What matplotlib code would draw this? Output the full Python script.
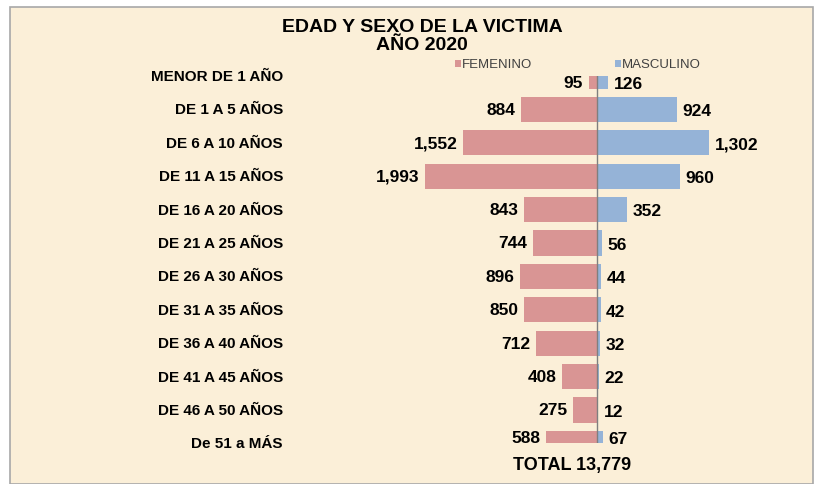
import matplotlib.pyplot as plt
import matplotlib.patches as p
import matplotlib.transforms as mtransforms

plt.rcParams['font.family'] = ['Liberation Sans', 'DejaVu Sans']

grupos = ["MENOR DE 1 AÑO", "DE 1 A 5 AÑOS", "DE 6 A 10 AÑOS", "DE 11 A 15 AÑOS",
          "DE 16 A 20 AÑOS", "DE 21 A 25 AÑOS", "DE 26 A 30 AÑOS", "DE 31 A 35 AÑOS",
          "DE 36 A 40 AÑOS", "DE 41 A 45 AÑOS", "DE 46 A 50 AÑOS", "De 51 a MÁS"]
femenino = [95, 884, 1552, 1993, 843, 744, 896, 850, 712, 408, 275, 588]
masculino = [126, 924, 1302, 960, 352, 56, 44, 42, 32, 22, 12, 67]
total = "TOTAL 13,779"

W, H = 820, 485
c_fem = "#D99594"
c_mas = "#95B3D7"

fig = plt.figure(figsize=(W / 100, H / 100), dpi=100)
fig.patch.set_facecolor("white")

# beige panel (behind the axes)
fig.patches.append(p.Rectangle((10 / W, 0), 803 / W, 1 - 8 / H, transform=fig.transFigure,
                               facecolor="#FBEFD8", edgecolor="#A8A8A8", lw=1.2, zorder=-5))

# bar axes: x pixels 300..812, y pixels 77..444
ax = fig.add_axes([300 / W, 1 - 444.4 / H, 512 / W, (444.4 - 77) / H])
ax.patch.set_alpha(0)
n = len(grupos)
ys = list(range(n))
h = 0.75
ax.barh(ys, [-v for v in femenino], height=h, color=c_fem)
ax.barh(ys, masculino, height=h, color=c_mas)
ax.set_xlim(-3441, 2491)
ax.set_ylim(n - 1, 0)
ax.axvline(0, color="#7F7F7F", lw=1.0)
ax.axis("off")

for i in ys:
    # visible center of each bar (first and last are clipped by the axis)
    lo, hi = max(i - h / 2, 0), min(i + h / 2, n - 1)
    yc = (lo + hi) / 2
    ax.annotate(f"{femenino[i]:,}", xy=(-femenino[i], yc), xytext=(-4, 0),
                textcoords="offset points", ha="right", va="center",
                fontsize=12.5, fontweight="bold", annotation_clip=False)
    ax.annotate(f"{masculino[i]:,}", xy=(masculino[i], yc), xytext=(4, -1),
                textcoords="offset points", ha="left", va="center",
                fontsize=12.5, fontweight="bold", annotation_clip=False)

# category labels
trans = mtransforms.blended_transform_factory(fig.transFigure, ax.transData)
for i, g in enumerate(grupos):
    ax.text(283 / W, i, g, transform=trans, ha="right", va="center",
            fontsize=11, fontweight="bold")

# title
fig.text(422 / W, 1 - 28 / H, "EDAD Y SEXO DE LA VICTIMA", ha="center", va="center",
         fontsize=14, fontweight="bold")
fig.text(422 / W, 1 - 46 / H, "AÑO 2020", ha="center", va="center",
         fontsize=14, fontweight="bold")

# legend
for x0, lab, col in [(455, "FEMENINO", c_fem), (615, "MASCULINO", c_mas)]:
    fig.patches.append(p.Rectangle((x0 / W, 1 - 68 / H), 6 / W, 7 / H,
                                   transform=fig.transFigure, facecolor=col, edgecolor="none"))
    fig.text((x0 + 7) / W, 1 - 64.5 / H, lab, ha="left", va="center",
             fontsize=9.5, color="#404040")

fig.text(572 / W, 1 - 466 / H, total, ha="center", va="center",
         fontsize=13, fontweight="bold")

fig.savefig("out.png", dpi=100)
